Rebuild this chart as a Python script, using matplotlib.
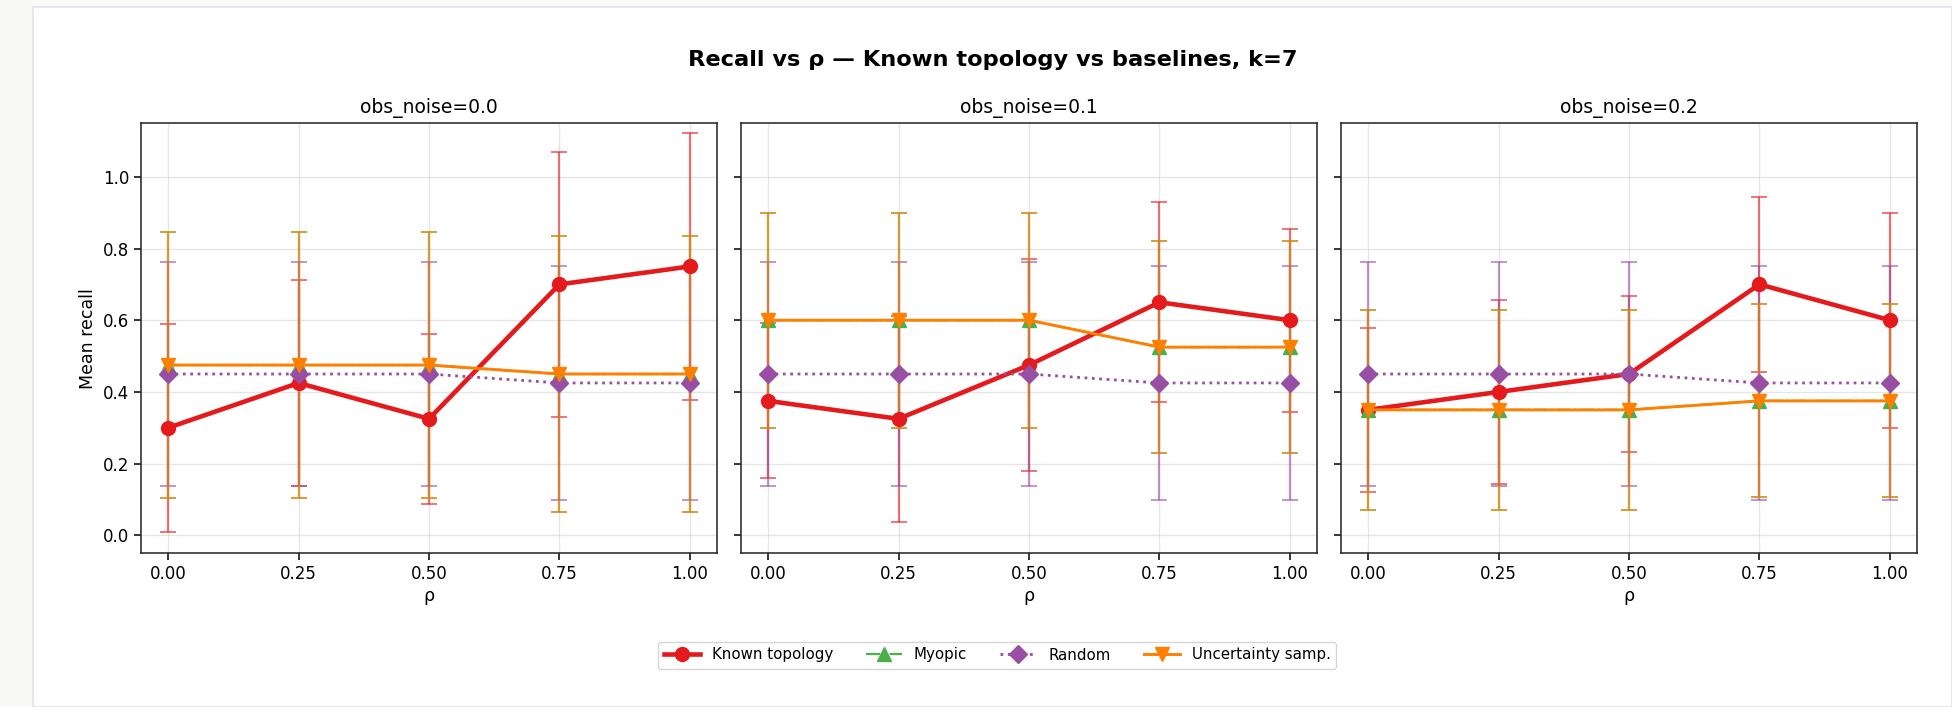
import matplotlib
matplotlib.use("Agg")
import matplotlib.pyplot as plt
from matplotlib.colors import to_rgba
from matplotlib.patches import Rectangle

# ---------------- data ----------------
rho = [0.0, 0.25, 0.5, 0.75, 1.0]
rho_ticks = [0.0, 0.25, 0.5, 0.75, 1.0]
rho_tick_labels = ["0.00", "0.25", "0.50", "0.75", "1.00"]
noise_levels = ["0.0", "0.1", "0.2"]
methods = ["Known topology", "Myopic", "Random", "Uncertainty samp."]

known_mean_n00 = [0.30, 0.425, 0.325, 0.70, 0.75]
known_err_n00 = [0.29, 0.287, 0.237, 0.369, 0.372]
known_mean_n01 = [0.375, 0.325, 0.475, 0.65, 0.60]
known_err_n01 = [0.216, 0.288, 0.295, 0.279, 0.255]
known_mean_n02 = [0.35, 0.40, 0.45, 0.70, 0.60]
known_err_n02 = [0.229, 0.256, 0.217, 0.245, 0.30]

myopic_mean_n00 = [0.475, 0.475, 0.475, 0.45, 0.45]
myopic_err_n00 = [0.37, 0.37, 0.37, 0.385, 0.385]
myopic_mean_n01 = [0.60, 0.60, 0.60, 0.525, 0.525]
myopic_err_n01 = [0.30, 0.30, 0.30, 0.295, 0.295]
myopic_mean_n02 = [0.35, 0.35, 0.35, 0.375, 0.375]
myopic_err_n02 = [0.278, 0.278, 0.278, 0.269, 0.269]

random_mean_n00 = [0.45, 0.45, 0.45, 0.425, 0.425]
random_err_n00 = [0.3125, 0.3125, 0.3125, 0.327, 0.327]
random_mean_n01 = [0.45, 0.45, 0.45, 0.425, 0.425]
random_err_n01 = [0.3125, 0.3125, 0.3125, 0.327, 0.327]
random_mean_n02 = [0.45, 0.45, 0.45, 0.425, 0.425]
random_err_n02 = [0.3125, 0.3125, 0.3125, 0.327, 0.327]

unc_mean_n00 = [0.475, 0.475, 0.475, 0.45, 0.45]
unc_err_n00 = [0.37, 0.37, 0.37, 0.385, 0.385]
unc_mean_n01 = [0.60, 0.60, 0.60, 0.525, 0.525]
unc_err_n01 = [0.30, 0.30, 0.30, 0.295, 0.295]
unc_mean_n02 = [0.35, 0.35, 0.35, 0.375, 0.375]
unc_err_n02 = [0.278, 0.278, 0.278, 0.269, 0.269]

panels = [
    [(known_mean_n00, known_err_n00), (myopic_mean_n00, myopic_err_n00),
     (random_mean_n00, random_err_n00), (unc_mean_n00, unc_err_n00)],
    [(known_mean_n01, known_err_n01), (myopic_mean_n01, myopic_err_n01),
     (random_mean_n01, random_err_n01), (unc_mean_n01, unc_err_n01)],
    [(known_mean_n02, known_err_n02), (myopic_mean_n02, myopic_err_n02),
     (random_mean_n02, random_err_n02), (unc_mean_n02, unc_err_n02)],
]

styles = [
    dict(color="#e41a1c", marker="o", ls="-", lw=3.3, ms=10),
    dict(color="#4daf4a", marker="^", ls="-.", lw=1.6, ms=10),
    dict(color="#984ea3", marker="D", ls=":", lw=2.0, ms=9.5),
    dict(color="#ff7f00", marker="v", ls="-", lw=2.1, ms=10),
]

# ---------------- figure ----------------
W, H = 1952, 707
fig = plt.figure(figsize=(W / 100, H / 100), dpi=100, facecolor="#f9f9f7")
fig.patches.append(Rectangle((33 / W, 0), 1 - 33 / W, 700 / H, transform=fig.transFigure,
                             facecolor="white", edgecolor="#e6e6ef", lw=1.5, zorder=-10))

ax_w, ax_h = 576, 430.3
ax_bottom = H - 553.3
axes = []
for i in range(3):
    left = 141 + 600 * i
    ax = fig.add_axes([left / W, ax_bottom / H, ax_w / W, ax_h / H],
                      sharey=axes[0] if axes else None)
    axes.append(ax)

handles = []
for i, ax in enumerate(axes):
    for j, (mean, err) in enumerate(panels[i]):
        st = styles[j]
        c = st["color"]
        eb = ax.errorbar(rho, mean, yerr=err, color=c, marker=st["marker"],
                         ls=st["ls"], lw=st["lw"], ms=st["ms"],
                         ecolor=to_rgba(c, 0.6), elinewidth=1.6, capsize=6,
                         capthick=1.4, label=methods[j])
        if i == 0:
            handles.append(eb[0])
    ax.set_title(f"obs_noise={noise_levels[i]}", fontsize=13.5, pad=7)
    ax.set_xlabel("ρ", fontsize=12.5, labelpad=3)
    ax.set_xticks(rho_ticks)
    ax.set_xticklabels(rho_tick_labels)
    ax.set_xlim(-0.052, 1.052)
    ax.grid(True, color="#cccccc", alpha=0.5, lw=1.0)
    ax.set_axisbelow(True)
    ax.tick_params(labelsize=12, length=5, width=1.1)
    for s in ax.spines.values():
        s.set_linewidth(1.1)
        s.set_color("#222222")
    if i > 0:
        ax.tick_params(labelleft=False)

axes[0].set_ylim(-0.05, 1.15)
axes[0].set_yticks([0.0, 0.2, 0.4, 0.6, 0.8, 1.0])
axes[0].set_ylabel("Mean recall", fontsize=12.5)

fig.suptitle("Recall vs ρ — Known topology vs baselines, k=7", fontsize=16.2,
             fontweight="bold", y=(H - 60) / H, va="center", x=(33 + 1919 / 2) / W)

fig.legend(handles, methods, loc="center", bbox_to_anchor=(997 / W, 52 / H),
           ncol=4, fontsize=10.8, frameon=True, handlelength=2.4, columnspacing=2.2)

fig.savefig("out.png", dpi=100, facecolor=fig.get_facecolor())
